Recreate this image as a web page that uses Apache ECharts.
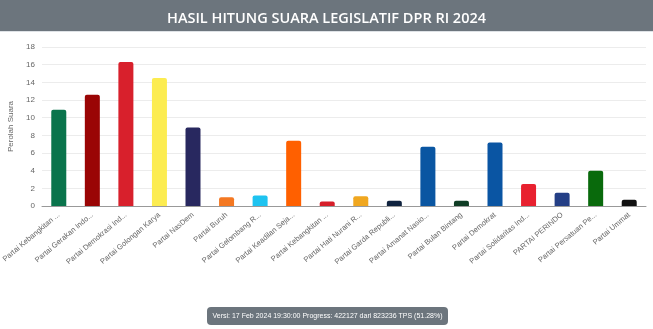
<!DOCTYPE html>
<html lang="id">
<head>
<meta charset="UTF-8">
<title>Hasil Hitung Suara Legislatif DPR RI 2024</title>
<style>
  html, body { margin: 0; padding: 0; background: #fff; }
  #main { width: 653px; height: 329px; }
</style>
</head>
<body>
<div id="main"></div>
<script src="https://cdn.jsdelivr.net/npm/echarts@6/dist/echarts.min.js"></script>
<script>
// nama partai (seperti yang tampil, sudah dipotong)
var partai = [
  "Partai Kebangkitan ...", "Partai Gerakan Indo...", "Partai Demokrasi Ind...",
  "Partai Golongan Karya", "Partai NasDem", "Partai Buruh",
  "Partai Gelombang R...", "Partai Keadilan Seja...", "Partai Kebangkitan ...",
  "Partai Hati Nurani R...", "Partai Garda Republi...", "Partai Amanat Nasio...",
  "Partai Bulan Bintang", "Partai Demokrat", "Partai Solidaritas Ind...",
  "PARTAI PERINDO", "Partai Persatuan Pe...", "Partai Ummat"
];
// perolehan suara (%)
var suara = [10.9, 12.6, 16.3, 14.5, 8.9, 1.0, 1.2, 7.4, 0.5, 1.1, 0.6, 6.7, 0.6, 7.2, 2.5, 1.5, 4.0, 0.7];
var warna = [
  "#0a744c", "#9a0505", "#d8202c", "#fcec50", "#28285f", "#f47822",
  "#1ec3f0", "#ff6000", "#d61f2a", "#f0a720", "#10233f", "#0a56a2",
  "#0f3d25", "#0a55a3", "#e8212f", "#243f86", "#096a0c", "#111111"
];
var judul = "HASIL HITUNG SUARA LEGISLATIF DPR RI 2024";
var versi = "Versi: 17 Feb 2024 19:30:00 Progress: 422127 dari 823236 TPS (51.28%)";

var myChart = echarts.init(document.getElementById('main'));
var option = {
  animation: false,
  textStyle: { fontFamily: 'Liberation Sans, Arial, sans-serif' },
  title: {
    text: judul,
    left: 'center',
    top: 6,
    textStyle: { color: '#fff', fontSize: 14.5, fontWeight: 600, fontFamily: 'Open Sans' }
  },
  graphic: [
    { type: 'rect', z: -1, shape: { x: 0, y: 0, width: 653, height: 31 }, style: { fill: '#6c757d' } },
    { type: 'rect', z: -1, shape: { x: 0, y: 31, width: 653, height: 1 }, style: { fill: '#dee2e6' } },
    {
      type: 'group', left: 207, top: 307,
      children: [
        { type: 'rect', shape: { x: 0, y: 0, width: 241, height: 18, r: 4 }, style: { fill: '#6c757d' } },
        { type: 'text', x: 120.5, y: 9, z: 10, style: { text: versi, fill: '#fff', fontSize: 7, fontFamily: 'Liberation Sans', align: 'center', verticalAlign: 'middle' } }
      ]
    }
  ],
  grid: { left: 42, right: 7, top: 47, bottom: 123, outerBoundsMode: 'none' },
  xAxis: {
    type: 'category',
    data: partai,
    axisTick: { show: false },
    axisLine: { lineStyle: { color: '#999' } },
    axisLabel: { rotate: 40, fontSize: 7.5, color: '#666', margin: 8, interval: 0 }
  },
  yAxis: {
    type: 'value',
    min: 0, max: 18, interval: 2,
    name: 'Perolah Suara',
    nameLocation: 'middle',
    nameGap: 21,
    nameTextStyle: { fontSize: 8, color: '#666' },
    axisLabel: { fontSize: 8, color: '#666', margin: 7 },
    splitLine: { lineStyle: { color: '#ececec' } }
  },
  series: [{
    type: 'bar',
    data: suara,
    barWidth: 15,
    itemStyle: {
      borderRadius: [2, 2, 0, 0],
      color: function (p) { return warna[p.dataIndex]; }
    }
  }]
};
myChart.setOption(option);
</script>
</body>
</html>
